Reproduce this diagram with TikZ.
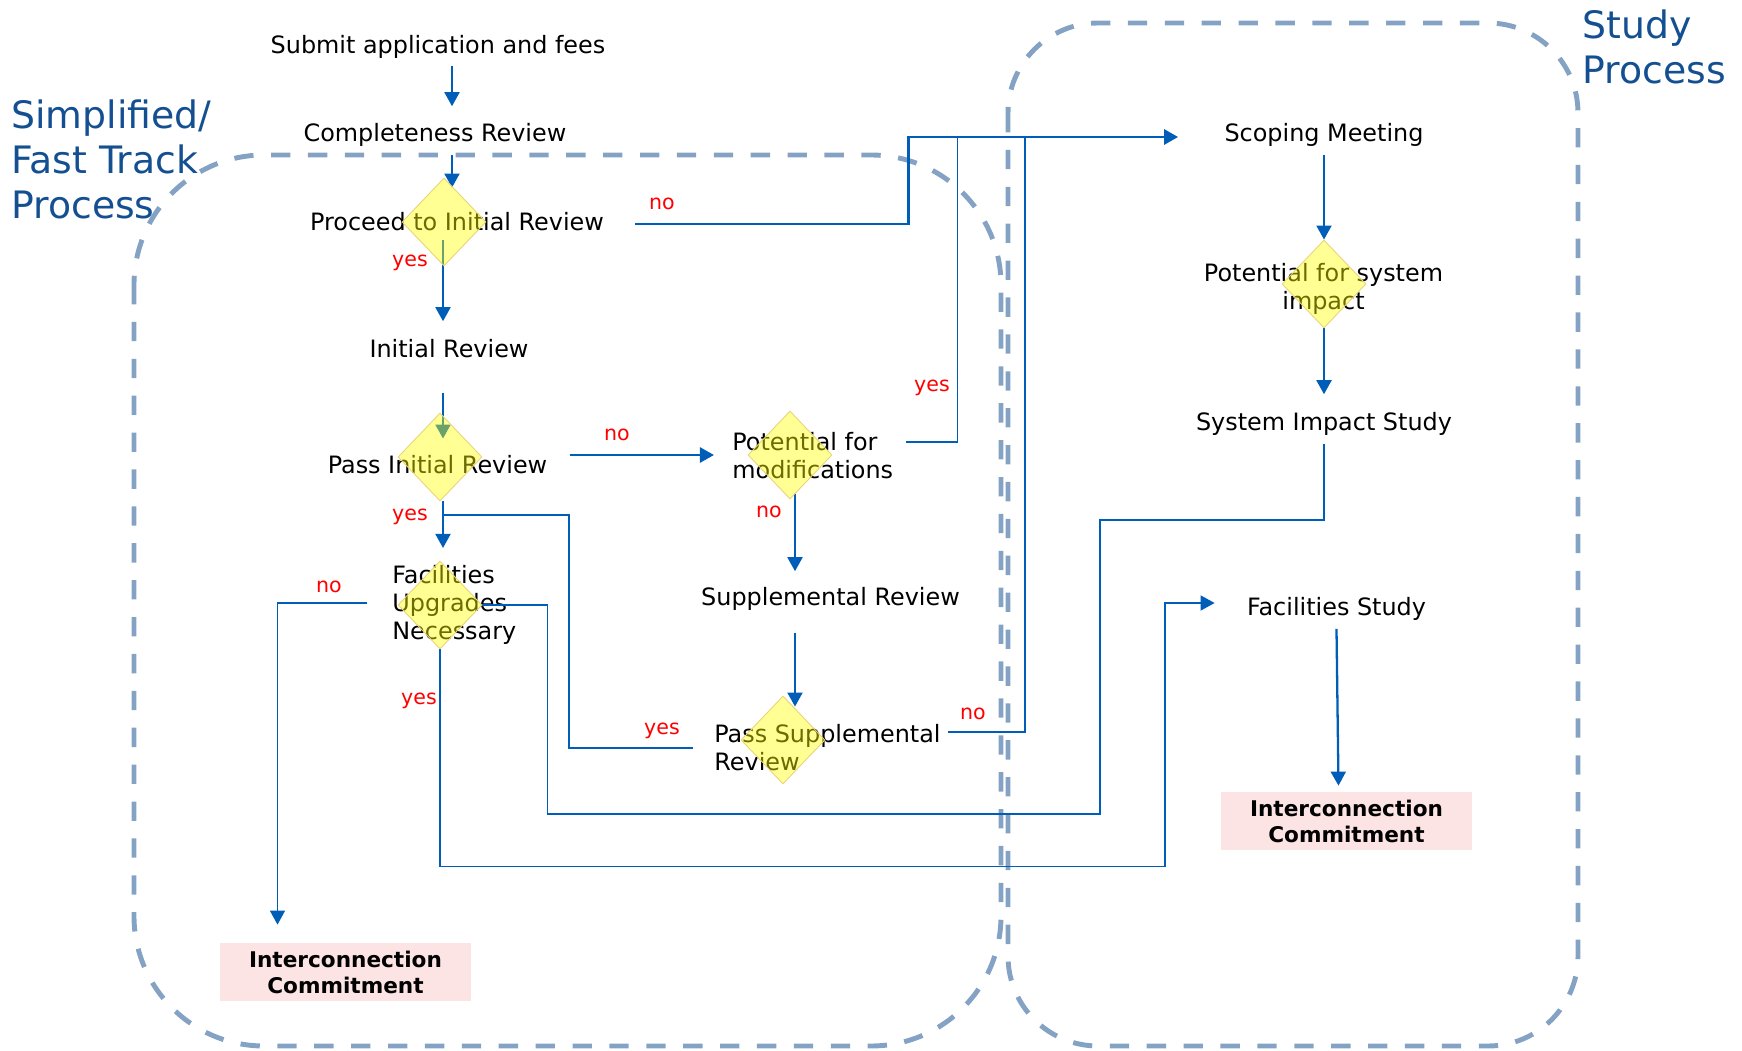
\documentclass[tikz,border=0pt]{standalone}
\usepackage{fontspec}
\setmainfont{DejaVu Sans}
\usetikzlibrary{shapes.geometric, arrows.meta, calc}
\pgfdeclarelayer{back}
\pgfsetlayers{back,main}
\definecolor{flowblue}{RGB}{0,94,184}
\definecolor{boxdash}{RGB}{132,163,196}
\definecolor{titleblue}{RGB}{20,80,145}
\definecolor{decfill}{RGB}{255,255,0}
\definecolor{decdraw}{RGB}{232,212,120}
\definecolor{commitfill}{RGB}{252,228,228}

\begin{document}
\begin{tikzpicture}[x=0.02cm, y=-0.02cm,
		txt/.style={inner sep=0.2cm, text height=11.5pt, text depth=1.5pt, font=\fontsize{13.6}{16}\selectfont},
		txtm/.style={inner sep=0.2cm, font=\fontsize{13.6}{16}\selectfont},
		ans/.style={inner sep=0pt, text=red, font=\fontsize{11.7}{14}\selectfont},
		decision/.style={diamond, minimum width=1.68cm, minimum height=1.76cm, inner sep=0pt, fill=decfill, fill opacity=0.42, draw=decdraw, line width=0.5pt},
		commit/.style={rectangle, fill=commitfill, minimum width=5.02cm, minimum height=1.16cm, inner sep=0pt, align=center, font=\bfseries\fontsize{12.3}{14.8}\selectfont},
		regionbox/.style={draw=boxdash, line width=2.8pt, dash pattern=on 11pt off 10pt},
		regiontitle/.style={inner sep=0pt, anchor=west, align=left, text=titleblue, font=\fontsize{21.5}{25.6}\selectfont},
		conn/.style={draw=flowblue, line width=1pt},
		flow/.style={conn, line width=1.3pt, -{Triangle[length=8pt, width=8.5pt]}},
		flowthin/.style={conn, -{Triangle[length=8pt, width=8.5pt]}},
		flowthick/.style={flow, line width=1.7pt}]
			\useasboundingbox (0,0) rectangle (1742,1051);
			\node [decision] (d1) at (444,222) {};
			\node [decision] (d2) at (440,457) {};
			\node [decision] (d3) at (790,455) {};
			\node [decision] (d4) at (1324,284) {};
			\node [decision] (d5) at (440,605) {};
			\node [decision] (d6) at (783,740) {};
			\begin{pgfonlayer}{back}
			\draw [regionbox, rounded corners=2.6cm] (134,155) rectangle (1001,1046);
			\draw [regionbox, rounded corners=1.8cm] (1008,23) rectangle (1578,1046);
			\node [regiontitle] (fasttitle) at (11,159) {Simplified/\\Fast Track\\Process};
			\node [regiontitle] (studytitle) at (1582,47) {Study\\Process};
			\node [txt] (submit) at (438,44.5) {Submit application and fees};
			\node [txt] (complete) at (435,133) {Completeness Review};
			\node [txt] (proceed) at (457,222) {Proceed to Initial Review};
			\node [txt] (initial) at (449,349) {Initial Review};
			\node [txt] (passinit) at (437.5,465) {Pass Initial Review};
			\node [txtm, align=left, anchor=west] (potmod) at (722,456) {Potential for\\modifications};
			\node [txtm, align=left, anchor=west] (facup) at (382,605) {Facilities\\Upgrades\\Necessary};
			\node [txt] (suppl) at (830.5,597) {Supplemental Review};
			\node [txtm, align=left, anchor=west] (passsup) at (704,748) {Pass Supplemental\\Review};
			\node [txt] (scoping) at (1324,133) {Scoping Meeting};
			\node [txtm, align=center] (potsys) at (1323.5,289) {Potential for system\\impact};
			\node [txt] (sis) at (1324,422) {System Impact Study};
			\node [txt] (facstudy) at (1336.5,607) {Facilities Study};
			\node [commit] (ic1) at (345.5,972) {Interconnection\\Commitment};
			\node [commit] (ic2) at (1346.5,821) {Interconnection\\Commitment};
			\node [ans] (d1no) at (662,204) {no};
			\node [ans] (d1yes) at (410,263) {yes};
			\node [ans] (d2no) at (617,435) {no};
			\node [ans] (d2yes) at (410,517) {yes};
			\node [ans] (d3yes) at (932,388) {yes};
			\node [ans] (d3no) at (769,512) {no};
			\node [ans] (d5no) at (329,587) {no};
			\node [ans] (d5yes) at (419,701) {yes};
			\node [ans] (d6yes) at (662,731) {yes};
			\node [ans] (d6no) at (973,714) {no};
			\draw [flow] ($(d1 |- submit.south)+(8,0)$) -- ($(d1 |- complete.north)+(8,-5)$);
			\draw [flow] ($(d1 |- complete.south)+(8,0)$) -- ($(d1.north)+(8,10)$);
			\draw [flow] ($(d1)+(-1,18)$) -- ($(d1 |- initial.north)+(-1,-6)$);
			\draw [flow] ($(d2 |- initial.south)+(3,22)$) -- ($(d2.north)+(3,26)$);
			\draw [flowthick] ($(passinit.east |- d2)+(12,-2)$) -- ($(potmod.west |- d2)+(-8,-2)$);
			\draw [flowthick] ($(proceed.east)+(21,2)$) -- ++(273,0) |- ($(scoping.west)+(-36,4)$);
			\draw [conn] ($(potmod.east)+(3,-14)$) -- ++(51,0) -- ++(0,-306);
			\draw [flow] ($(d3.south)+(5,-5)$) -- ($(d3 |- suppl.north)+(5,-4)$);
			\draw [flow] ($(d3 |- suppl.south)+(5,14)$) -- ($(d3 |- d6.north)+(5,11)$);
			\draw [conn] ($(passsup.east)+(-3,-16)$) -- ++(77,0) -- ++(0,-595);
			\draw [conn] ($(d2)+(4,58)$) -- ++(125,0) |- ($(passsup.west)+(-11,0)$);
			\draw [flow] ($(d2.south)+(3,0)$) -- ($(d2 |- facup.north)+(3,-7)$);
			\draw [flowthin] ($(facup.west)+(-15,-2)$) -| ($(ic1.north)+(-68,-18)$);
			\draw [flowthin] (d5.south) -- ++(0,217) -| ($(facstudy.west)+(-72,-4)$) -- ($(facstudy.west)+(-22,-4)$);
			\draw [conn] (sis.south) -- ++(0,76) -- ++(-224,0) -- ++(0,294) -| ($(d5.east)+(65,0)$) -- (d5.east);
			\draw [flow] (scoping.south) -- (d4.north);
			\draw [flow] (d4.south) -- ($(sis.north)+(0,-6)$);
			\draw [flow] (facstudy.south) -- ($(ic2.north)+(-8,-6)$);
			\end{pgfonlayer}
		\end{tikzpicture}
\end{document}
